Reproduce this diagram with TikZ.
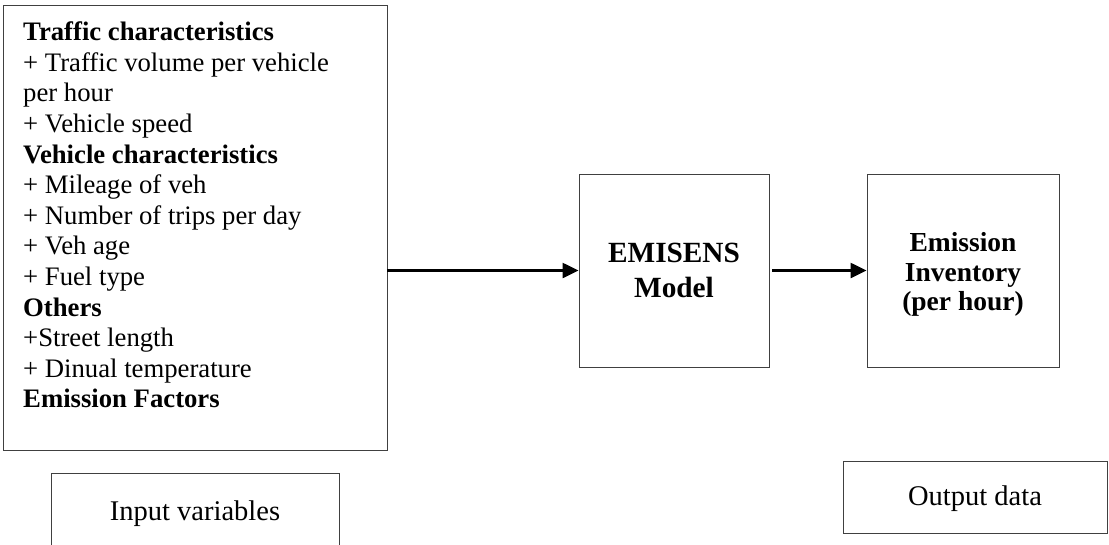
\documentclass[tikz,border=0pt]{standalone}
\usepackage{fontspec}
\setmainfont{Liberation Serif}
\usetikzlibrary{arrows.meta}
\begin{document}
\begin{tikzpicture}[x=1pt,y=-1pt,
  box/.style={draw=black!75, line width=0.9pt, inner sep=0pt},
  flow/.style={line width=2.4pt, -{Triangle[length=16pt,width=15pt]}},
  txt/.style={font=\fontsize{26.7}{30.6}\selectfont},
  label/.style={font=\fontsize{28.5}{30}\selectfont},
]
\clip (0,0) rectangle (1109,544);
\fill[white] (0,0) rectangle (1109,544);
% input box
\node[box, minimum width=384pt, minimum height=445pt] (in) at (195,227.5) {};
\node[anchor=north west, align=left, inner sep=0pt, txt] (intext) at (23,21.7)
 {\textbf{Traffic characteristics}\\
  + Traffic volume per vehicle\\
  per hour\\
  + Vehicle speed\\
  \textbf{Vehicle characteristics}\\
  + Mileage of veh\\
  + Number of trips per day\\
  + Veh age\\
  + Fuel type\\
  \textbf{Others}\\
  +Street length\\
  + Dinual temperature\\
  \textbf{Emission Factors}};
% model box
\node[box, minimum width=190pt, minimum height=193pt, align=center,
      font=\fontsize{29.3}{35}\selectfont\bfseries] (model) at (674,270.5)
 {EMISENS\\Model};
% inventory box
\node[box, minimum width=192pt, minimum height=193pt] (inv) at (963,270.5) {};
\node[align=center, inner sep=0pt, font=\fontsize{27.5}{29.5}\selectfont\bfseries] (invtext) at (963,274.5)
 {Emission\\Inventory\\(per hour)};
% arrows
\draw[flow] (in.east |- model.west) -- (model.west);
\draw[flow, shorten <=3pt] (model.east) -- (inv.west);
% bottom labels
\node[box, label, anchor=base, minimum width=288pt, text height=47pt, text depth=47pt] (ivar) at (195,520) {Input variables};
\node[box, label, anchor=base, minimum width=264pt, text height=44pt, text depth=28pt] (odata) at (975,505) {Output data};
\end{tikzpicture}
\end{document}
